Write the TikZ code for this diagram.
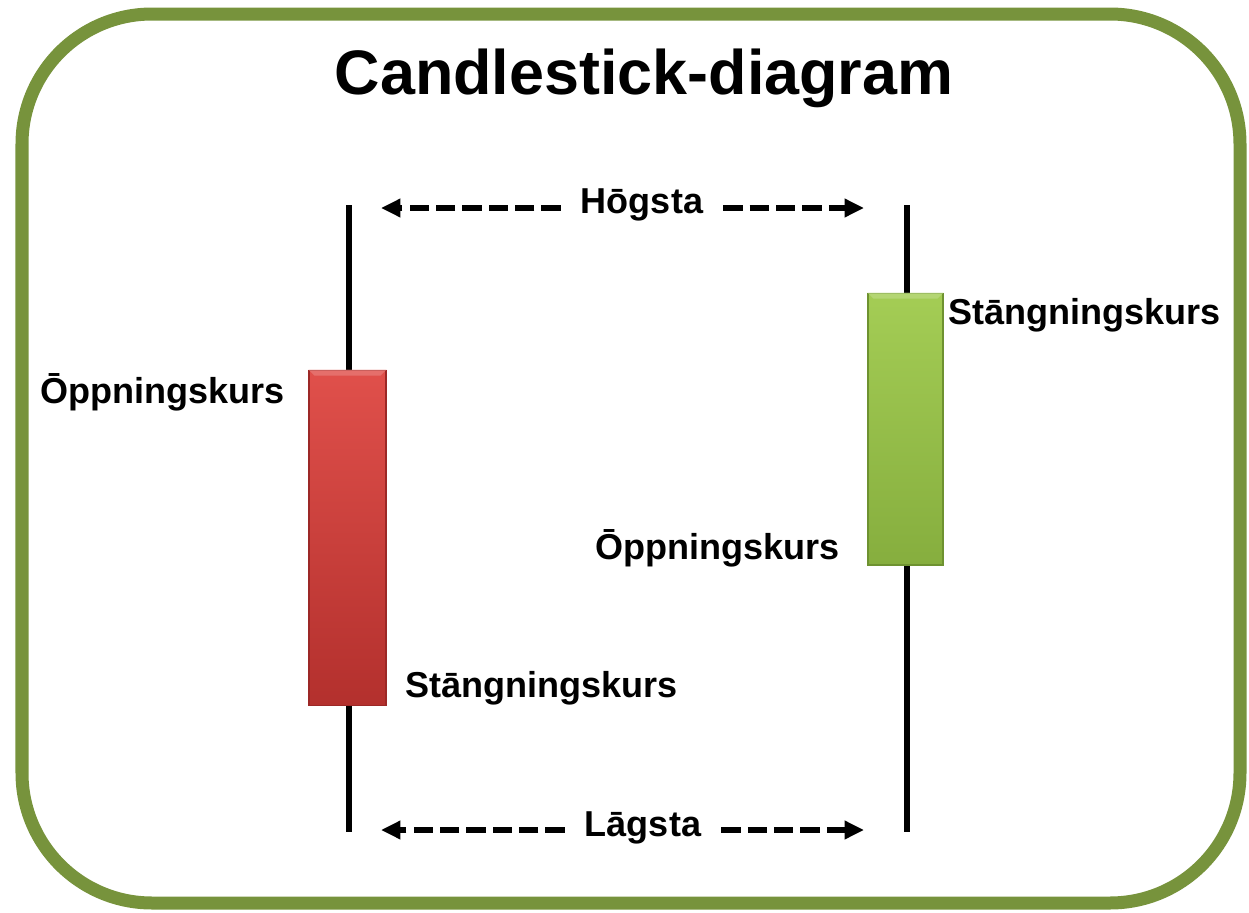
\documentclass[tikz,border=0pt]{standalone}
\usepackage{fontspec}
\setmainfont{Liberation Sans}
\usetikzlibrary{arrows.meta}
\definecolor{frame}{HTML}{77933C}
\definecolor{redtop}{HTML}{E0504B}
\definecolor{redbot}{HTML}{B3302D}
\definecolor{reddark}{HTML}{9C2826}
\definecolor{greentop}{HTML}{A4CD55}
\definecolor{greenbot}{HTML}{86AE3E}
\definecolor{greendark}{HTML}{6E9230}
\tikzset{
  lbl/.style={font=\fontsize{20.5pt}{24pt}\selectfont\bfseries, inner sep=0pt},
  wick/.style={line width=2.9pt, black},
  dasharrow/.style={line width=3pt, dash pattern=on 11pt off 4pt, -{Triangle[length=11pt,width=10pt]}},
  candle/.style={draw, line width=0.6pt, minimum width=1.54cm, inner sep=0pt},
}
\begin{document}
\begin{tikzpicture}[x=0.02cm,y=-0.02cm]
\useasboundingbox (0,0) rectangle (1249,913);
\draw[frame, line width=7.4pt, rounded corners=2.6cm] (22,14) rectangle (1240,903);
\node[font=\fontsize{35.8pt}{40pt}\selectfont\bfseries, inner sep=0pt] (title) at (644,78) {Candlestick-diagram};
% wicks
\coordinate (lw1) at (349,205);
\coordinate (lw2) at (349,832);
\coordinate (rw1) at (907,205);
\coordinate (rw2) at (907,832);
\draw[wick] (lw1) -- (lw2);
\draw[wick] (rw1) -- (rw2);
% candles
\node[candle, draw=reddark, top color=redtop, bottom color=redbot, minimum height=6.72cm] (redc) at (347.5,538) {};
\fill[redtop!70!white, opacity=0.6] (redc.north west) -- (redc.north east) -- ([xshift=-0.12cm,yshift=-0.12cm]redc.north east) -- ([xshift=0.12cm,yshift=-0.12cm]redc.north west) -- cycle;
\node[candle, draw=greendark, top color=greentop, bottom color=greenbot, minimum width=1.5cm, minimum height=5.44cm] (grc) at (905.5,429) {};
\fill[greentop!70!white, opacity=0.6] (grc.north west) -- (grc.north east) -- ([xshift=-0.12cm,yshift=-0.12cm]grc.north east) -- ([xshift=0.12cm,yshift=-0.12cm]grc.north west) -- cycle;
% labels
\node[lbl, anchor=west] (lopen) at (40,392) {Ōppningskurs};
\node[lbl, anchor=west] (lclose) at (405,688) {Stāngningskurs};
\node[lbl, anchor=west] (ropen) at (595,548) {Ōppningskurs};
\node[lbl, anchor=west] (rclose) at (948,315) {Stāngningskurs};
\node[lbl] (hog) at (642,205) {Hōgsta};
\node[lbl] (lag) at (643,828) {Lāgsta};
% arrows
\coordinate (ha1) at (381,208);
\coordinate (ha2) at (864,208);
\coordinate (la1) at (381,830);
\coordinate (la2) at (864,830);
\draw[dasharrow] ([xshift=-0.4cm]hog.west |- ha1) -- (ha1);
\draw[dasharrow] ([xshift=0.4cm]hog.east |- ha2) -- (ha2);
\draw[dasharrow] ([xshift=-0.4cm]lag.west |- la1) -- (la1);
\draw[dasharrow] ([xshift=0.4cm]lag.east |- la2) -- (la2);
\end{tikzpicture}
\end{document}
